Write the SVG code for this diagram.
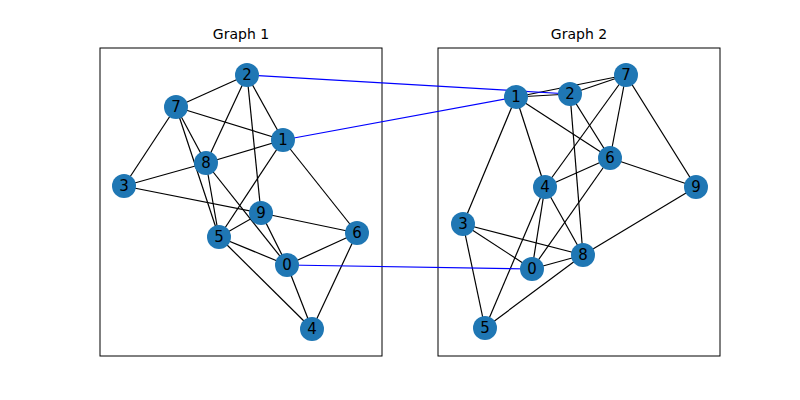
<svg xmlns="http://www.w3.org/2000/svg" width="800" height="400" viewBox="0 0 800 400">
<style>
.ax{fill:none;stroke:#000;stroke-width:1}
.t{font-family:"DejaVu Sans",sans-serif;font-size:14px;text-anchor:middle}
.e line{stroke:#000;stroke-width:1.2}
.b line{stroke:#00f;stroke-width:1.2}
.n circle{fill:#1f77b4}
.n text{font-family:"DejaVu Sans",sans-serif;font-size:15px;text-anchor:middle;dominant-baseline:central}
</style>
<rect width="800" height="400" fill="#fff"/>
<rect class="ax" x="100" y="48" width="282" height="308"/>
<rect class="ax" x="438" y="48" width="282" height="308"/>
<text class="t" x="241" y="39">Graph 1</text>
<text class="t" x="579" y="39">Graph 2</text>
<g id="connectors">
<g class="e">
<line x1="247" y1="75" x2="176" y2="107"/><line x1="247" y1="75" x2="206" y2="163"/><line x1="247" y1="75" x2="283" y2="140"/><line x1="247" y1="75" x2="261" y2="213"/>
<line x1="176" y1="107" x2="283" y2="140"/><line x1="176" y1="107" x2="124" y2="186"/><line x1="176" y1="107" x2="206" y2="163"/><line x1="176" y1="107" x2="219" y2="237"/>
<line x1="206" y1="163" x2="219" y2="237"/><line x1="206" y1="163" x2="287" y2="265"/><line x1="283" y1="140" x2="206" y2="163"/><line x1="283" y1="140" x2="219" y2="237"/><line x1="283" y1="140" x2="357" y2="233"/>
<line x1="124" y1="186" x2="206" y2="163"/><line x1="124" y1="186" x2="261" y2="213"/><line x1="261" y1="213" x2="357" y2="233"/>
<line x1="261" y1="213" x2="219" y2="237"/><line x1="261" y1="213" x2="287" y2="265"/><line x1="219" y1="237" x2="287" y2="265"/><line x1="219" y1="237" x2="312" y2="329"/>
<line x1="287" y1="265" x2="357" y2="233"/><line x1="287" y1="265" x2="312" y2="329"/><line x1="357" y1="233" x2="312" y2="329"/>
<line x1="516" y1="97" x2="570" y2="94"/><line x1="516" y1="97" x2="626" y2="75"/><line x1="570" y1="94" x2="626" y2="75"/><line x1="516" y1="97" x2="610" y2="158"/><line x1="516" y1="97" x2="545" y2="187"/><line x1="516" y1="97" x2="463" y2="224"/>
<line x1="570" y1="94" x2="610" y2="158"/><line x1="570" y1="94" x2="583" y2="255"/><line x1="626" y1="75" x2="545" y2="187"/><line x1="626" y1="75" x2="610" y2="158"/><line x1="626" y1="75" x2="696" y2="187"/>
<line x1="610" y1="158" x2="545" y2="187"/><line x1="610" y1="158" x2="696" y2="187"/><line x1="610" y1="158" x2="532" y2="269"/>
<line x1="545" y1="187" x2="532" y2="269"/><line x1="545" y1="187" x2="485" y2="328"/><line x1="545" y1="187" x2="583" y2="255"/><line x1="696" y1="187" x2="583" y2="255"/>
<line x1="463" y1="224" x2="583" y2="255"/><line x1="463" y1="224" x2="532" y2="269"/><line x1="463" y1="224" x2="485" y2="328"/><line x1="532" y1="269" x2="583" y2="255"/><line x1="485" y1="328" x2="583" y2="255"/>
</g>
<g class="b">
<line x1="247" y1="75" x2="570" y2="94"/><line x1="283" y1="140" x2="516" y2="97"/><line x1="287" y1="265" x2="532" y2="269"/>
</g>
</g>
<g class="n">
<g id="g1n0"><circle cx="287" cy="265" r="12"/><text x="287" y="265">0</text></g>
<g id="g1n1"><circle cx="283" cy="140" r="12"/><text x="283" y="140">1</text></g>
<g id="g1n2"><circle cx="247" cy="75" r="12"/><text x="247" y="75">2</text></g>
<g id="g1n3"><circle cx="124" cy="186" r="12"/><text x="124" y="186">3</text></g>
<g id="g1n4"><circle cx="312" cy="329" r="12"/><text x="312" y="329">4</text></g>
<g id="g1n5"><circle cx="219" cy="237" r="12"/><text x="219" y="237">5</text></g>
<g id="g1n6"><circle cx="357" cy="233" r="12"/><text x="357" y="233">6</text></g>
<g id="g1n7"><circle cx="176" cy="107" r="12"/><text x="176" y="107">7</text></g>
<g id="g1n8"><circle cx="206" cy="163" r="12"/><text x="206" y="163">8</text></g>
<g id="g1n9"><circle cx="261" cy="213" r="12"/><text x="261" y="213">9</text></g>
<g id="g2n0"><circle cx="532" cy="269" r="12"/><text x="532" y="269">0</text></g>
<g id="g2n1"><circle cx="516" cy="97" r="12"/><text x="516" y="97">1</text></g>
<g id="g2n2"><circle cx="570" cy="94" r="12"/><text x="570" y="94">2</text></g>
<g id="g2n3"><circle cx="463" cy="224" r="12"/><text x="463" y="224">3</text></g>
<g id="g2n4"><circle cx="545" cy="187" r="12"/><text x="545" y="187">4</text></g>
<g id="g2n5"><circle cx="485" cy="328" r="12"/><text x="485" y="328">5</text></g>
<g id="g2n6"><circle cx="610" cy="158" r="12"/><text x="610" y="158">6</text></g>
<g id="g2n7"><circle cx="626" cy="75" r="12"/><text x="626" y="75">7</text></g>
<g id="g2n8"><circle cx="583" cy="255" r="12"/><text x="583" y="255">8</text></g>
<g id="g2n9"><circle cx="696" cy="187" r="12"/><text x="696" y="187">9</text></g>
</g>
</svg>
